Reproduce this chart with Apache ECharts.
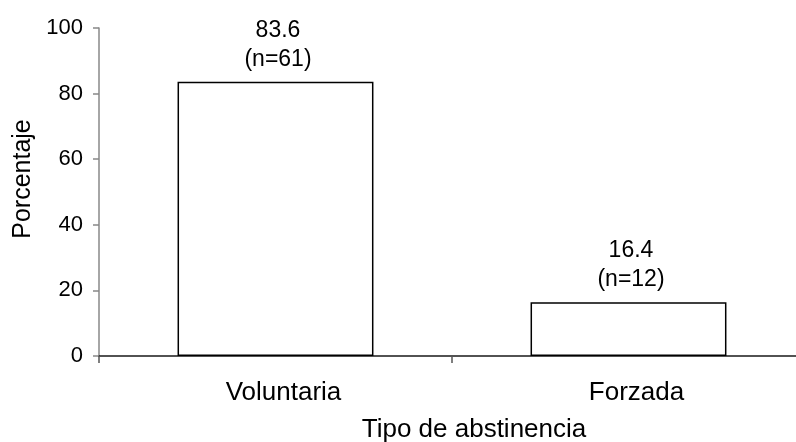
<!DOCTYPE html>
<html>
<head>
<meta charset="utf-8">
<script src="https://cdn.jsdelivr.net/npm/echarts@6/dist/echarts.min.js"></script>
<style>
  html, body { margin: 0; padding: 0; background: #fff; }
  #chart { width: 796px; height: 442px; }
</style>
</head>
<body>
<div id="chart"></div>
<script>
// Tipo de abstinencia: porcentaje y número de casos
const categories = ['Voluntaria', 'Forzada'];
const percentages = [83.6, 16.4];
const counts = [61, 12];
const yTicks = [0, 20, 40, 60, 80, 100];

const FONT = '"Liberation Sans", Arial, sans-serif';

const chart = echarts.init(document.getElementById('chart'), null, { renderer: 'canvas' });

chart.setOption({
  animation: false,
  backgroundColor: '#ffffff',
  textStyle: { fontFamily: FONT, color: '#000' },
  // the plot area runs a little past the right edge of the canvas
  grid: { left: 99, top: 28, width: 706, height: 328, containLabel: false, outerBoundsMode: 'none' },
  xAxis: {
    type: 'category',
    data: categories,
    boundaryGap: true,
    name: 'Tipo de abstinencia',
    nameLocation: 'middle',
    nameGap: 61,
    nameTextStyle: { fontFamily: FONT, fontSize: 26, color: '#000', padding: [0, 0, 0, 44] },
    axisLine: { lineStyle: { color: '#1a1a1a', width: 1.5 } },
    axisTick: { show: true, alignWithLabel: false, inside: false, length: 7, lineStyle: { color: '#555', width: 1.5 } },
    axisLabel: { fontFamily: FONT, fontSize: 26, color: '#000', margin: 24, padding: [0, 0, 0, 16] },
    splitLine: { show: false }
  },
  yAxis: {
    type: 'value',
    min: yTicks[0],
    max: yTicks[yTicks.length - 1],
    interval: yTicks[1] - yTicks[0],
    name: 'Porcentaje',
    nameLocation: 'middle',
    nameGap: 61,
    nameTextStyle: { fontFamily: FONT, fontSize: 25, color: '#000', padding: [0, 0, 0, 26] },
    axisLine: { show: true, lineStyle: { color: '#888', width: 1.5 } },
    axisTick: { show: true, inside: false, length: 6, lineStyle: { color: '#888', width: 1.5 } },
    axisLabel: { fontFamily: FONT, fontSize: 22, color: '#000', margin: 16 },
    splitLine: { show: false }
  },
  series: [{
    type: 'bar',
    data: percentages,
    barWidth: '55.5%',
    itemStyle: { color: '#ffffff', borderColor: '#000', borderWidth: 1.5 },
    label: {
      show: true,
      position: 'top',
      distance: 8,
      fontFamily: FONT,
      fontSize: 23,
      lineHeight: 29,
      color: '#000',
      align: 'center',
      padding: [0, 0, 0, 5],
      formatter: (p) => p.value.toFixed(1) + '\n(n=' + counts[p.dataIndex] + ')'
    }
  }]
});
</script>
</body>
</html>
